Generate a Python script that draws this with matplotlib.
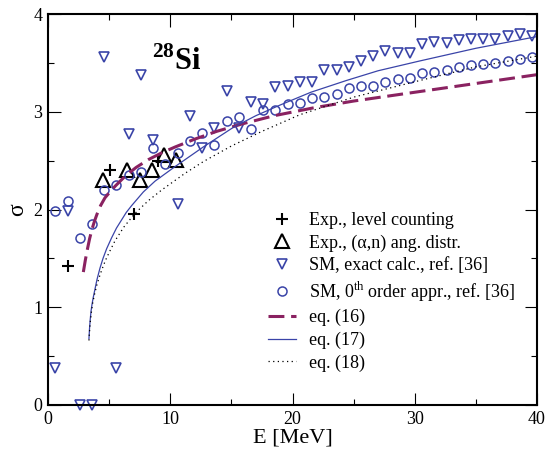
import matplotlib
matplotlib.use("Agg")
import matplotlib.pyplot as plt
from matplotlib.ticker import MultipleLocator

plt.rcParams['font.family'] = 'serif'
plt.rcParams['font.serif'] = ['Liberation Serif', 'DejaVu Serif']
plt.rcParams['mathtext.fontset'] = 'custom'
plt.rcParams['mathtext.rm'] = 'Liberation Serif'
plt.rcParams['mathtext.bf'] = 'Liberation Serif:bold'

# experimental points
E_count = [1.6, 5.1, 7.0, 9.0]
sig_count = [1.42, 2.40, 1.95, 2.50]

E_alpha = [4.5, 6.5, 7.5, 8.5, 9.5, 10.5]
sig_alpha = [2.30, 2.40, 2.30, 2.40, 2.56, 2.51]

# shell model, exact calculation
E_exact = [0.6, 1.6, 2.6, 3.6, 4.6, 5.6, 6.6, 7.6, 8.6, 10.6, 11.6, 12.6, 13.6,
           14.6, 15.6, 16.6, 17.6, 18.6, 19.6, 20.6, 21.6, 22.6, 23.6, 24.6,
           25.6, 26.6, 27.6, 28.6, 29.6, 30.6, 31.6, 32.6, 33.6, 34.6, 35.6,
           36.6, 37.6, 38.6, 39.6]
sig_exact = [0.38, 1.98, 0.0, 0.0, 3.56, 0.38, 2.77, 3.38, 2.71, 2.06, 2.96, 2.63,
             2.83, 3.21, 2.83, 3.10, 3.08, 3.25, 3.26, 3.31, 3.31, 3.43, 3.43,
             3.46, 3.52, 3.57, 3.62, 3.60, 3.60, 3.69, 3.71, 3.70, 3.73, 3.75,
             3.75, 3.75, 3.78, 3.80, 3.78]

# shell model, 0th order approximation
E_zero = [0.6, 1.6, 2.6, 3.6, 4.6, 5.6, 6.6, 7.6, 8.6, 9.6, 10.6, 11.6, 12.6,
          13.6, 14.6, 15.6, 16.6, 17.6, 18.6, 19.6, 20.6, 21.6, 22.6, 23.6,
          24.6, 25.6, 26.6, 27.6, 28.6, 29.6, 30.6, 31.6, 32.6, 33.6, 34.6,
          35.6, 36.6, 37.6, 38.6, 39.6]
sig_zero = [1.98, 2.09, 1.71, 1.85, 2.20, 2.25, 2.35, 2.38, 2.63, 2.47, 2.58,
            2.70, 2.78, 2.66, 2.91, 2.95, 2.82, 3.02, 3.02, 3.08, 3.09, 3.14,
            3.15, 3.18, 3.24, 3.26, 3.26, 3.31, 3.34, 3.35, 3.40, 3.41, 3.43,
            3.46, 3.48, 3.49, 3.50, 3.52, 3.54, 3.56]

# formula curves
E_eq16 = [2.89, 3.05, 3.2, 3.4, 3.6, 3.8, 4.0, 4.3, 4.66, 5.0, 5.5, 6.3, 7.2,
          8.2, 9.3, 10.4, 12.0, 13.8, 16.0, 18.5, 21.7, 25.0, 30.0, 35.0, 40.0]
sig_eq16 = [1.36, 1.48, 1.58, 1.70, 1.80, 1.88, 1.95, 2.04, 2.12, 2.17, 2.24,
            2.34, 2.43, 2.51, 2.58, 2.64, 2.72, 2.80, 2.88, 2.96, 3.04, 3.11,
            3.20, 3.29, 3.38]

E_eq17 = [3.35, 3.4, 3.45, 3.52, 3.6, 3.7, 3.8, 4.0, 4.25, 4.5, 4.8, 5.2, 5.6,
          6.0, 6.4, 6.84, 7.8, 8.75, 10.4, 12.7, 15.15, 17.0, 19.0, 21.5, 24.4,
          27.0, 30.4, 35.0, 40.0]
sig_eq17 = [0.68, 0.79, 0.87, 0.96, 1.03, 1.10, 1.16, 1.28, 1.40, 1.50, 1.60,
            1.71, 1.81, 1.89, 1.97, 2.04, 2.18, 2.29, 2.44, 2.64, 2.84, 2.96,
            3.07, 3.20, 3.32, 3.42, 3.52, 3.65, 3.77]

E_eq18 = [3.35, 3.4, 3.45, 3.55, 3.65, 3.8, 4.0, 4.2, 4.39, 4.7, 5.0, 5.48, 6.2,
          7.11, 8.2, 9.3, 11.2, 12.7, 15.0, 17.5, 20.6, 25.0, 30.4, 35.0, 40.0]
sig_eq18 = [0.66, 0.76, 0.84, 0.95, 1.04, 1.13, 1.23, 1.31, 1.38, 1.48, 1.56,
            1.68, 1.82, 1.96, 2.09, 2.20, 2.37, 2.49, 2.65, 2.80, 2.97, 3.15,
            3.32, 3.46, 3.57]

blue = '#3a44a8'
maroon = '#8a2261'

fig = plt.figure(figsize=(5.48, 4.54), dpi=100)
ax = fig.add_axes([0.0876, 0.108, 0.8924, 0.861])

ax.plot(E_count, sig_count, linestyle='none', marker='+', color='black',
        markersize=9, markeredgewidth=1.5, label='Exp., level counting')
ax.plot(E_alpha, sig_alpha, linestyle='none', marker='^', color='black',
        markerfacecolor='none', markersize=9.5, markeredgewidth=1.5,
        label='Exp., (α,n) ang. distr.')
ax.plot(E_exact, sig_exact, linestyle='none', marker='v', color=blue,
        markerfacecolor='none', markersize=6.5, markeredgewidth=1.2,
        label='SM, exact calc., ref. [36]', clip_on=False)
ax.plot(E_zero, sig_zero, linestyle='none', marker='o', color=blue,
        markerfacecolor='none', markersize=6.5, markeredgewidth=1.1,
        label=r'SM, 0$^{\rm th}$ order appr., ref. [36]')
ax.plot(E_eq16, sig_eq16, color=maroon, linewidth=2.2,
        linestyle=(0, (5.2, 2.2)), label='eq. (16)')
ax.plot(E_eq17, sig_eq17, color=blue, linewidth=0.9, label='eq. (17)')
ax.plot(E_eq18, sig_eq18, color='black', linewidth=0.9,
        linestyle=(0, (1, 2.7)), label='eq. (18)')

ax.set_xlim(0, 40)
ax.set_ylim(0, 4)
ax.xaxis.set_major_locator(MultipleLocator(10))
ax.xaxis.set_minor_locator(MultipleLocator(5))
ax.yaxis.set_major_locator(MultipleLocator(1))
ax.yaxis.set_minor_locator(MultipleLocator(0.5))
ax.tick_params(which='both', direction='in', top=True, right=True, labelsize=13)
ax.tick_params(which='major', length=9, width=0.8, pad=4)
ax.tick_params(which='minor', length=4.5, width=0.8)
for s in ax.spines.values():
    s.set_linewidth(1.5)

ax.set_xlabel('E [MeV]', fontsize=16, labelpad=1)
ax.set_ylabel('σ', fontsize=17, labelpad=4)

ax.text(8.5, 3.43, r'$^{\mathbf{28}}\mathbf{Si}$', fontsize=22, ha='left', va='baseline')

ax.legend(loc='upper left', bbox_to_anchor=(0.45, 0.494), frameon=False,
          fontsize=13, handlelength=1.55, handletextpad=0.72, labelspacing=0.3,
          borderaxespad=0, borderpad=0)

fig.savefig('out.png', dpi=100)
